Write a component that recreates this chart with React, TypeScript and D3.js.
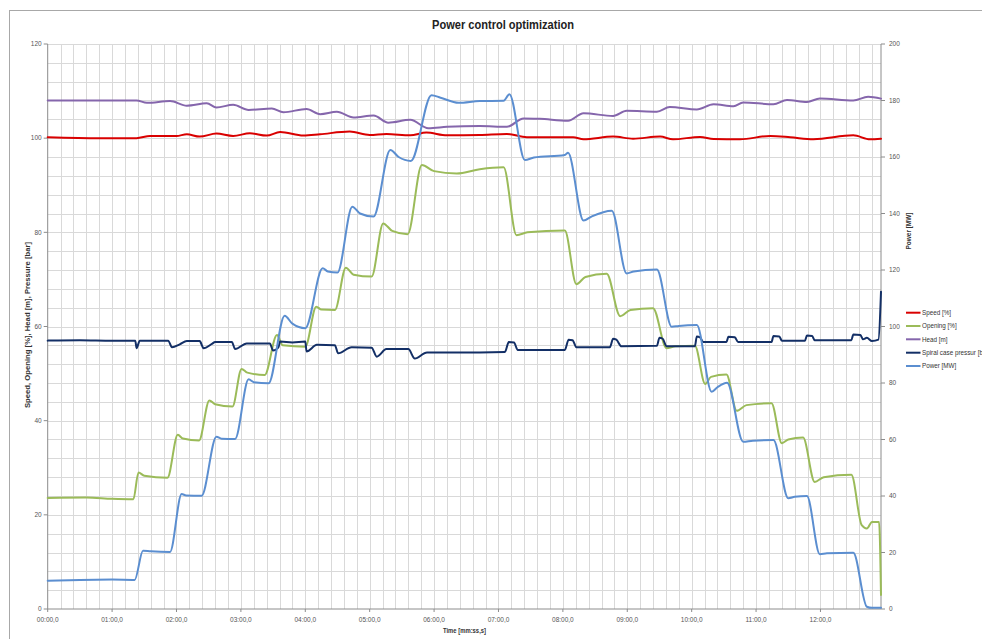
import React from 'react';
import * as d3 from 'd3';

const chartTitle = 'Power control optimization';
const leftAxisTitle = 'Speed, Opening [%], Head [m], Pressure [bar]';
const rightAxisTitle = 'Power [MW]';
const xAxisTitle = 'Time [mm:ss,s]';
const seriesNames = ['Speed [%]', 'Opening [%]', 'Head [m]', 'Spiral case pressur [b', 'Power [MW]'];
const seriesColors = ['#D90000', '#9BBB59', '#8566AC', '#132F66', '#5B8ED0'];

const leftTicks = [0, 20, 40, 60, 80, 100, 120];
const rightTicks = [0, 20, 40, 60, 80, 100, 120, 140, 160, 180, 200];
const xTickMinutes = [0, 1, 2, 3, 4, 5, 6, 7, 8, 9, 10, 11, 12];
const xTickLabels = ['00:00,0', '01:00,0', '02:00,0', '03:00,0', '04:00,0', '05:00,0', '06:00,0', '07:00,0', '08:00,0', '09:00,0', '10:00,0', '11:00,0', '12:00,0'];
const timeEnd = 12.94; // minutes

// [minutes, value]
const speed: [number, number][] = [
  [0, 100.2], [0.81, 100.0], [1.38, 100.0], [1.59, 100.47], [2.0, 100.45], [2.16, 100.83], [2.36, 100.33],
  [2.62, 100.97], [2.88, 100.47], [3.14, 101.04], [3.4, 100.54], [3.61, 101.3], [3.97, 100.54], [4.23, 100.83],
  [4.69, 101.4], [5.0, 100.68], [5.26, 100.9], [5.63, 100.6], [5.88, 101.2], [6.2, 100.6], [6.71, 100.68],
  [7.13, 100.9], [7.44, 100.2], [8.16, 100.2], [8.32, 99.76], [8.78, 100.33], [9.09, 99.9], [9.51, 100.33],
  [9.71, 99.76], [10.13, 100.26], [10.34, 99.83], [10.75, 99.76], [11.22, 100.47], [11.53, 100.2], [11.89, 99.76],
  [12.51, 100.6], [12.77, 99.76], [12.94, 99.9],
];

const opening: [number, number][] = [
  [0, 23.6], [0.6, 23.7], [1.0, 23.4], [1.33, 23.3], [1.41, 29.0], [1.5, 28.3], [1.86, 27.9], [2.02, 37.0],
  [2.1, 36.2], [2.35, 35.8], [2.51, 44.3], [2.6, 43.5], [2.87, 43.0], [3.01, 51.0], [3.1, 50.2], [3.37, 49.7],
  [3.56, 58.2], [3.65, 56.0], [4.0, 55.7], [4.17, 64.2], [4.25, 63.6], [4.46, 63.5], [4.63, 72.5], [4.75, 71.0],
  [5.03, 70.6], [5.21, 81.9], [5.35, 80.3], [5.59, 79.6], [5.81, 94.3], [6.0, 93.0], [6.35, 92.5], [6.71, 93.4],
  [7.08, 93.8], [7.28, 79.4], [7.45, 80.0], [8.03, 80.4], [8.21, 69.0], [8.35, 70.5], [8.68, 71.2], [8.89, 62.2],
  [9.05, 63.5], [9.4, 63.9], [9.61, 55.4], [9.75, 55.8], [10.05, 55.9], [10.21, 47.8], [10.3, 49.3], [10.54, 49.8],
  [10.7, 42.1], [10.85, 43.3], [11.24, 43.7], [11.4, 35.2], [11.5, 36.0], [11.73, 36.4], [11.91, 27.0], [12.05, 28.0],
  [12.48, 28.5], [12.64, 17.8], [12.72, 17.1], [12.8, 18.5], [12.91, 18.5], [12.94, 3.0],
];

const head: [number, number][] = [
  [0, 108.0], [1.38, 108.0], [1.54, 107.5], [1.9, 107.9], [2.16, 106.9], [2.47, 107.4], [2.62, 106.5],
  [2.88, 107.1], [3.12, 106.0], [3.48, 106.3], [3.66, 105.5], [4.02, 106.2], [4.23, 105.1], [4.49, 105.6],
  [4.75, 104.4], [5.06, 104.8], [5.29, 103.3], [5.63, 103.9], [5.91, 102.1], [6.2, 102.4], [6.71, 102.6],
  [7.13, 102.4], [7.39, 104.2], [7.64, 104.1], [8.08, 103.7], [8.32, 105.3], [8.78, 104.7], [8.99, 105.8],
  [9.46, 105.6], [9.66, 106.6], [10.08, 106.1], [10.34, 107.2], [10.65, 106.8], [10.8, 107.6], [11.27, 107.2],
  [11.48, 108.1], [11.79, 107.7], [11.99, 108.4], [12.51, 108.0], [12.74, 108.8], [12.94, 108.4],
];

const pressure: [number, number][] = [
  [0, 57.0], [0.5, 57.1], [1.0, 57.0], [1.36, 57.0], [1.38, 55.4], [1.43, 57.0], [1.87, 57.0], [1.93, 55.6],
  [2.05, 56.2], [2.16, 56.9], [2.36, 56.9], [2.42, 55.4], [2.55, 56.3], [2.6, 56.7], [2.86, 56.7], [2.91, 55.2],
  [3.09, 56.4], [3.45, 56.4], [3.5, 54.9], [3.58, 55.5], [3.61, 56.8], [3.8, 56.6], [4.0, 56.8], [4.02, 54.7],
  [4.18, 56.1], [4.46, 56.0], [4.51, 54.3], [4.72, 55.6], [5.03, 55.5], [5.11, 53.6], [5.26, 55.2], [5.6, 55.2],
  [5.7, 53.2], [5.89, 54.5], [6.71, 54.5], [7.1, 54.6], [7.16, 56.7], [7.24, 56.6], [7.3, 55.0], [8.03, 55.0],
  [8.09, 57.2], [8.15, 57.1], [8.21, 55.6], [8.73, 55.6], [8.78, 57.4], [8.83, 57.2], [8.91, 55.8], [9.46, 55.9],
  [9.5, 57.6], [9.55, 57.4], [9.61, 55.8], [10.05, 55.8], [10.08, 57.9], [10.13, 57.7], [10.18, 56.7], [10.54, 56.7],
  [10.57, 57.8], [10.67, 57.7], [10.72, 56.7], [11.24, 56.7], [11.27, 58.0], [11.36, 57.9], [11.4, 57.0], [11.76, 57.0],
  [11.79, 58.1], [11.87, 58.0], [11.91, 57.1], [12.48, 57.1], [12.51, 58.3], [12.62, 58.2], [12.66, 57.3],
  [12.72, 57.6], [12.8, 56.9], [12.9, 57.2], [12.94, 67.4],
];

const power: [number, number][] = [
  [0, 10.0], [0.5, 10.3], [1.0, 10.4], [1.35, 10.3], [1.48, 20.6], [1.6, 20.4], [1.9, 20.2], [2.08, 40.7],
  [2.15, 40.2], [2.39, 40.1], [2.62, 61.0], [2.7, 60.3], [2.91, 60.2], [3.12, 81.3], [3.2, 80.3], [3.43, 79.9],
  [3.68, 103.8], [3.8, 101.0], [4.0, 99.4], [4.27, 120.6], [4.35, 119.5], [4.5, 119.1], [4.73, 142.4], [4.85, 140.0],
  [5.06, 138.9], [5.32, 162.5], [5.45, 160.0], [5.64, 158.6], [5.96, 181.9], [6.1, 181.0], [6.38, 179.2], [6.71, 179.8],
  [7.08, 179.9], [7.17, 182.2], [7.41, 158.9], [7.55, 159.8], [8.03, 160.7], [8.08, 161.5], [8.32, 137.5], [8.45, 139.0],
  [8.76, 141.0], [8.99, 118.8], [9.1, 119.5], [9.46, 120.2], [9.69, 99.9], [9.8, 100.2], [10.08, 100.5], [10.31, 76.9],
  [10.4, 78.5], [10.55, 80.1], [10.8, 59.2], [10.95, 59.6], [11.27, 59.8], [11.5, 39.2], [11.6, 39.7], [11.79, 40.0],
  [11.99, 19.4], [12.1, 19.7], [12.51, 19.9], [12.72, 0.8], [12.8, 0.4], [12.94, 0.4],
];

const W = 982;
const H = 639;
const plot = { left: 47.7, right: 881, top: 44, bottom: 609 };
const font = "'Liberation Sans', Arial, sans-serif";

export default function App() {
  const x = d3.scaleLinear().domain([0, timeEnd]).range([plot.left, plot.right]);
  const yL = d3.scaleLinear().domain([0, 120]).range([plot.bottom, plot.top]);
  const yR = d3.scaleLinear().domain([0, 200]).range([plot.bottom, plot.top]);

  const lineL = d3.line<[number, number]>().x(d => x(d[0])).y(d => yL(d[1])).curve(d3.curveMonotoneX);
  const lineR = d3.line<[number, number]>().x(d => x(d[0])).y(d => yR(d[1])).curve(d3.curveMonotoneX);

  const vGrid = d3.range(1, Math.floor(timeEnd / 0.2) + 1).map(i => i * 0.2).filter(v => v < timeEnd - 0.05);
  const hGrid = d3.range(1, 31).map(i => i * 4);

  const seriesPaths = [
    lineL(speed), lineL(opening), lineL(head), lineL(pressure), lineR(power),
  ];

  const legendY = [312.7, 326, 339.3, 352.7, 366];

  return (
    <svg width={W} height={H} style={{ position: 'absolute', left: 0, top: 0, background: '#fff' }} fontFamily={font}>
      <rect x={0} y={0} width={W} height={H} fill="#fff" />
      <rect x={9.5} y={10.5} width={1200} height={900} fill="none" stroke="#a8a8a8" strokeWidth={1} />
      <text x={503} y={29} textAnchor="middle" fontSize={12} fontWeight="bold" fill="#222" textLength={142} lengthAdjust="spacingAndGlyphs">{chartTitle}</text>

      {/* grid */}
      <g stroke="#d9d9d9" strokeWidth={1}>
        {vGrid.map((v, i) => (
          <line key={'v' + i} x1={Math.round(x(v)) + 0.5} x2={Math.round(x(v)) + 0.5} y1={plot.top} y2={plot.bottom} />
        ))}
        {hGrid.map((v, i) => (
          <line key={'h' + i} x1={plot.left} x2={plot.right} y1={Math.round(yL(v)) + 0.5} y2={Math.round(yL(v)) + 0.5} />
        ))}
      </g>

      {/* axes */}
      <g stroke="#8c8c8c" strokeWidth={1}>
        <line x1={plot.left} x2={plot.left} y1={plot.top} y2={plot.bottom} />
        <line x1={plot.right} x2={plot.right} y1={plot.top} y2={plot.bottom} />
        <line x1={plot.left} x2={plot.right} y1={plot.bottom} y2={plot.bottom} />
        {leftTicks.map(t => (
          <line key={'lt' + t} x1={plot.left - 4} x2={plot.left} y1={yL(t)} y2={yL(t)} />
        ))}
        {rightTicks.map(t => (
          <line key={'rt' + t} x1={plot.right} x2={plot.right + 4} y1={yR(t)} y2={yR(t)} />
        ))}
        {xTickMinutes.map(t => (
          <line key={'xt' + t} x1={x(t)} x2={x(t)} y1={plot.bottom} y2={plot.bottom + 3} />
        ))}
      </g>

      <g fontSize={6.5} fill="#555">
        {leftTicks.map(t => (
          <text key={'ll' + t} x={plot.left - 6} y={yL(t) + 2.3} textAnchor="end">{t}</text>
        ))}
        {rightTicks.map(t => (
          <text key={'rl' + t} x={plot.right + 8} y={yR(t) + 2.3} textAnchor="start">{t}</text>
        ))}
        {xTickMinutes.map((t, i) => (
          <text key={'xl' + t} x={x(t)} y={622} textAnchor="middle">{xTickLabels[i]}</text>
        ))}
      </g>

      <text transform={`translate(29.5,325) rotate(-90)`} textAnchor="middle" fontSize={6.5} fontWeight="bold" fill="#333" textLength={166} lengthAdjust="spacingAndGlyphs">{leftAxisTitle}</text>
      <text transform={`translate(911,231) rotate(-90)`} textAnchor="middle" fontSize={6.5} fontWeight="bold" fill="#333" textLength={37} lengthAdjust="spacingAndGlyphs">{rightAxisTitle}</text>
      <text x={464.5} y={633} textAnchor="middle" fontSize={6.5} fontWeight="bold" fill="#333" textLength={43} lengthAdjust="spacingAndGlyphs">{xAxisTitle}</text>

      {/* series */}
      <g fill="none" strokeWidth={2} strokeLinejoin="round" strokeLinecap="round">
        {seriesPaths.map((p, i) => (
          <path key={'s' + i} d={p || ''} stroke={seriesColors[i]} />
        ))}
      </g>

      {/* legend */}
      <g fontSize={6.3} fill="#333">
        {seriesNames.map((n, i) => (
          <g key={'lg' + i}>
            <line x1={906} x2={920.5} y1={legendY[i]} y2={legendY[i]} stroke={seriesColors[i]} strokeWidth={2} />
            <text x={922} y={legendY[i] + 2.2}>{n}</text>
          </g>
        ))}
      </g>
    </svg>
  );
}
